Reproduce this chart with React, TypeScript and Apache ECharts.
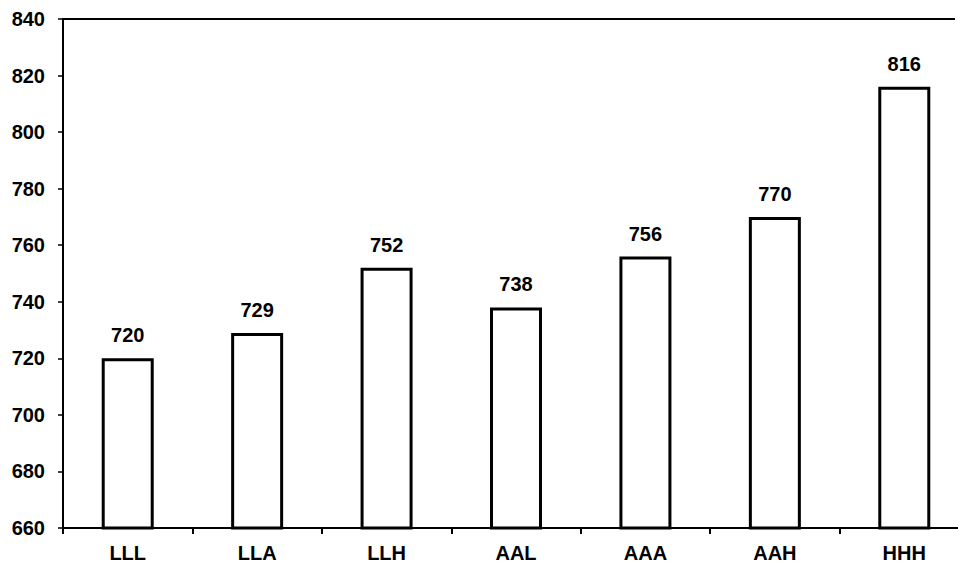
import React, { useEffect, useRef } from "react";
import * as echarts from "echarts";

const categories = ["LLL", "LLA", "LLH", "AAL", "AAA", "AAH", "HHH"];
const values = [720, 729, 752, 738, 756, 770, 816];
const yMin = 660;
const yMax = 840;
const yInterval = 20;

export default function App() {
  const ref = useRef<HTMLDivElement>(null);
  useEffect(() => {
    if (!ref.current) return;
    const chart = echarts.init(ref.current, undefined, { renderer: "svg" });
    const font = "Arial, 'Liberation Sans', sans-serif";
    chart.setOption({
      animation: false,
      backgroundColor: "#fff",
      grid: { left: 63, width: 906, top: 19, height: 509, containLabel: false, outerBoundsMode: "none" },
      xAxis: {
        type: "category",
        data: categories,
        axisLine: { lineStyle: { color: "#000", width: 2 } },
        axisTick: { show: true, alignWithLabel: false, length: 6, lineStyle: { color: "#000", width: 2 } },
        axisLabel: { color: "#000", fontFamily: font, fontWeight: "bold", fontSize: 20, margin: 15 },
        splitLine: { show: false },
      },
      yAxis: {
        type: "value",
        min: yMin,
        max: yMax,
        interval: yInterval,
        axisLine: { show: true, lineStyle: { color: "#000", width: 2 } },
        axisTick: { show: true, length: 5, lineStyle: { color: "#000", width: 1.5 } },
        axisLabel: { color: "#000", fontFamily: font, fontWeight: "bold", fontSize: 20, margin: 18 },
        splitLine: { show: false },
      },
      graphic: [
        { type: "line", shape: { x1: 62, y1: 19, x2: 955, y2: 19 }, style: { stroke: "#000", lineWidth: 2 } },
      ],
      series: [
        {
          type: "bar",
          data: values,
          barWidth: 52,
          itemStyle: { color: "#fff", borderColor: "#000", borderWidth: 3 },
          label: {
            show: true,
            position: "top",
            distance: 13,
            color: "#000",
            fontFamily: font,
            fontWeight: "bold",
            fontSize: 20,
          },
        },
      ],
    });
    return () => chart.dispose();
  }, []);
  return <div ref={ref} style={{ width: 958, height: 573, position: "absolute", left: 0, top: 0 }} />;
}
